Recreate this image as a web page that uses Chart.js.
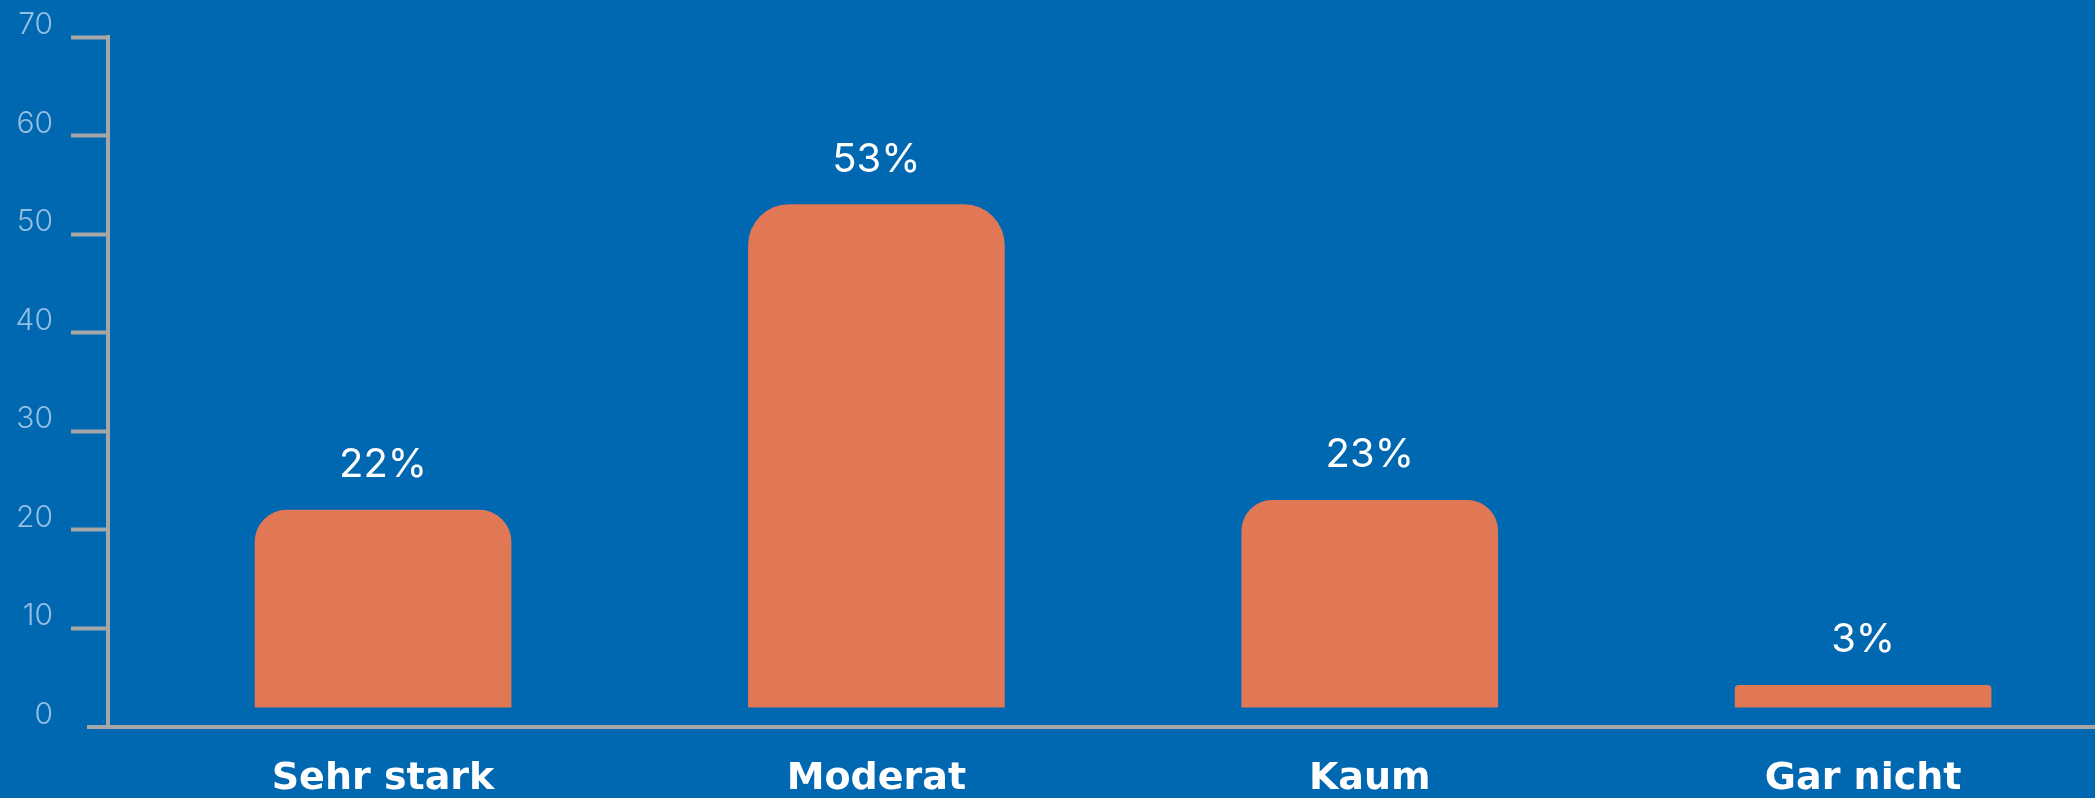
<!DOCTYPE html>
<html>
<head>
<meta charset="utf-8">
<script src="https://cdn.jsdelivr.net/npm/chart.js@4"></script>
<style>
  html, body { margin: 0; padding: 0; background: #0067b1; overflow: hidden; }
  #wrap { width: 2095px; height: 798px; }
</style>
</head>
<body>
<div id="wrap"><canvas id="myChart"></canvas></div>
<script>
var categorias = ["Sehr stark", "Moderat", "Kaum", "Gar nicht"];
var valores = [22, 53, 23, 3];
var etiquetas = ["22%", "53%", "23%", "3%"];
var ticksY = [0, 10, 20, 30, 40, 50, 60, 70];

var gris = "#a6a6a6";

// puntos {x: indice, y: valor} para poder correr las barras sobre un eje lineal
var puntos = [];
for (let i = 0; i < categorias.length; i++) {
  puntos.push({ x: i, y: valores[i] });
}

// texto "22%" arriba de cada barra
var pluginEtiquetas = {
  id: "etiquetas",
  afterDatasetsDraw: function (chart) {
    var ctx = chart.ctx;
    var meta = chart.getDatasetMeta(0);
    ctx.save();
    ctx.font = "400 40px Inter";
    ctx.fillStyle = "#ffffff";
    ctx.textAlign = "center";
    ctx.textBaseline = "alphabetic";
    meta.data.forEach(function (bar, i) {
      ctx.fillText(etiquetas[i], bar.x, bar.y - 33);
    });
    ctx.restore();
  },
};

// linea base, un poco mas larga que el area del grafico
var pluginBase = {
  id: "lineaBase",
  afterDraw: function (chart) {
    var ctx = chart.ctx;
    var y = chart.scales.y.getPixelForValue(0);
    ctx.save();
    ctx.strokeStyle = gris;
    ctx.lineWidth = 4;
    ctx.beginPath();
    ctx.moveTo(chart.chartArea.left - 21, y);
    ctx.lineTo(chart.chartArea.right, y);
    ctx.stroke();
    ctx.restore();
  },
};

var ctx = document.getElementById("myChart").getContext("2d");
new Chart(ctx, {
  type: "bar",
  data: {
    datasets: [
      {
        data: puntos,
        backgroundColor: "#e07856",
        borderWidth: 0,
        borderRadius: [32, 41, 31, 4],
        barThickness: 256,
        base: 2,
        minBarLength: 22,
      },
    ],
  },
  options: {
    responsive: true,
    maintainAspectRatio: false,
    animation: false,
    layout: { padding: { top: 37, left: 0, right: 0, bottom: 0 } },
    plugins: {
      legend: { display: false },
      tooltip: { enabled: false },
    },
    scales: {
      x: {
        type: "linear",
        offset: false,
        min: -0.5575,
        max: 3.47,
        grid: { display: false },
        border: { display: false },
        afterBuildTicks: function (scale) {
          scale.ticks = categorias.map(function (c, i) {
            return { value: i };
          });
        },
        afterFit: function (scale) {
          scale.height = 71;
        },
        ticks: {
          autoSkip: false,
          maxRotation: 0,
          padding: 21,
          color: "#ffffff",
          font: { family: "DejaVu Sans", weight: "bold", size: 38 },
          callback: function (value) {
            return categorias[value];
          },
        },
      },
      y: {
        min: 0,
        max: 70,
        afterBuildTicks: function (scale) {
          scale.ticks = ticksY.map(function (v) {
            return { value: v };
          });
        },
        afterFit: function (scale) {
          scale.width = 108;
        },
        grid: {
          drawOnChartArea: false,
          drawTicks: true,
          tickLength: 37,
          tickWidth: 4,
          tickColor: function (c) {
            return c.tick && c.tick.value === 0 ? "rgba(0,0,0,0)" : gris;
          },
        },
        border: { display: true, color: gris, width: 4 },
        ticks: {
          padding: 18,
          labelOffset: -12,
          color: "#93bfe3",
          font: { family: "Inter", weight: 300, size: 30 },
        },
      },
    },
  },
  plugins: [pluginEtiquetas, pluginBase],
});
</script>
</body>
</html>
